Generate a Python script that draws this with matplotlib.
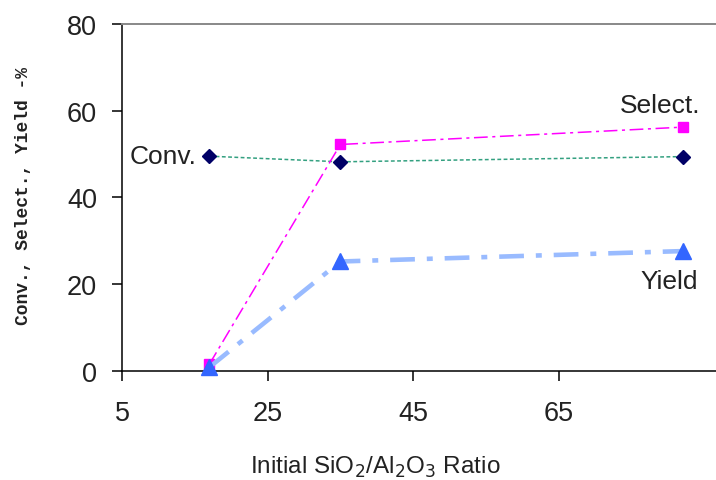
import matplotlib.pyplot as plt

# values
ratio = [17, 35, 82]
conv = [49.5, 48.2, 49.4]
select = [1.5, 52.2, 56.2]
yld = [0.8, 25.2, 27.6]

yticks = [0, 20, 40, 60, 80]
xticks = [5, 25, 45, 65]

plt.rcParams['font.family'] = ['Liberation Sans', 'DejaVu Sans']
txt_col = '#222222'

W, H = 716, 481
fig = plt.figure(figsize=(W / 100, H / 100), dpi=100)
ax = fig.add_axes([122 / W, 109.3 / H, 1 - 122 / W, 346.7 / H])

ax.plot(ratio, conv, ls=(0, (2.5, 1.6)), lw=1.1, color='#33a080',
        marker='D', ms=7.5, mfc='#000066', mec='#000066', zorder=3, clip_on=False)
ax.plot(ratio, select, ls=(0, (9, 3, 2, 3)), lw=1.1, color='#ff00ff',
        marker='s', ms=7.5, mfc='#ff00ff', mec='#ff00ff', zorder=4, clip_on=False)
ax.plot(ratio, yld, ls=(0, (5.4, 2.6, 1.3, 2.6)), lw=3.3, color='#99bbff',
        marker='^', ms=12, mfc='#3366ff', mec='#3366ff', zorder=5, clip_on=False)

ax.set_xlim(5, 86.6)
ax.set_ylim(0, 80)
ax.set_xticks(xticks)
ax.set_yticks(yticks)
ax.tick_params(direction='out', length=7, width=1.1, labelsize=19.5,
               colors='black', labelcolor=txt_col)
ax.tick_params(axis='x', pad=14)
ax.tick_params(axis='y', pad=11)

ax.spines['right'].set_visible(False)
ax.spines['top'].set_color('#888888')
ax.spines['top'].set_linewidth(1.4)
ax.spines['left'].set_linewidth(1.1)
ax.spines['bottom'].set_linewidth(1.1)

ax.annotate('Conv.', (ratio[0], conv[0]), xytext=(-9.4, 0), textcoords='offset points',
            fontsize=19, color=txt_col, va='center', ha='right')
ax.annotate('Select.', (ratio[2], select[2]), xytext=(-16.5, 16), textcoords='offset points',
            fontsize=19, color=txt_col, va='center', ha='center')
ax.annotate('Yield', (ratio[2], yld[2]), xytext=(-9.4, -21.6), textcoords='offset points',
            fontsize=19, color=txt_col, va='center', ha='center')

fig.text(24 / W, 1 - 196 / H, 'Conv., Select., Yield -%', rotation=90,
         family=['Liberation Mono', 'DejaVu Sans Mono'], fontsize=13, fontweight='bold',
         color=txt_col, va='center', ha='center')
fig.text(375 / W, 1 - 467 / H, r'Initial SiO$_2$/Al$_2$O$_3$ Ratio',
         fontsize=17.5, color=txt_col, va='center', ha='center')

fig.savefig('out.png', dpi=100)
